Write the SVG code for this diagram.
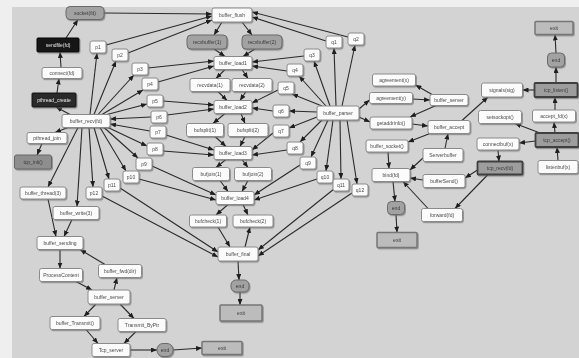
<svg xmlns="http://www.w3.org/2000/svg" width="579" height="358" viewBox="0 0 579 358">
<style>
.bg{fill:#efefef}
.panel{fill:#d3d3d3}
.n rect{fill:#fbfbfb;stroke:#8a8a8a;stroke-width:1}
.g rect{fill:#a2a2a2;stroke:#6a6a6a;stroke-width:1}
.k rect{fill:#151515;stroke:#000;stroke-width:1}
.d rect{fill:#2c2c2c;stroke:#111;stroke-width:1}
.t rect{fill:#8e8e8e;stroke:#666;stroke-width:1}
.o rect{fill:#bcbcbc;stroke:#767676;stroke-width:1.5}
.b rect{fill:#9d9d9d;stroke:#3f3f3f;stroke-width:1.8}
text{font-family:"Liberation Sans",Arial,sans-serif;font-size:5px;fill:#4a4a4a;text-anchor:middle;dominant-baseline:central}
.k text,.d text{fill:#e8e8e8}
.g text,.t text,.b text,.o text{fill:#3a3a3a}
#edges line{stroke:#2a2a2a;stroke-width:1.1;marker-end:url(#ah)}
.node{filter:url(#ds)}
</style>
<defs>
<marker id="ah" markerUnits="userSpaceOnUse" markerWidth="6" markerHeight="5" refX="6" refY="2.5" orient="auto"><path d="M0,0 L6,2.5 L0,5 z" fill="#1e1e1e"/></marker>
<filter id="ds" x="-20%" y="-30%" width="150%" height="180%"><feDropShadow dx="1" dy="1.2" stdDeviation="0.6" flood-color="#6a6a6a" flood-opacity="0.6"/></filter>
</defs>
<rect class="bg" x="0" y="0" width="579" height="358"/>
<rect class="panel" x="12" y="7" width="567" height="351"/>
<g id="edges">
<line x1="70" y1="114.5" x2="56" y2="107"/>
<line x1="57" y1="93" x2="59" y2="78.5"/>
<line x1="61" y1="67.5" x2="60" y2="52"/>
<line x1="66" y1="38" x2="78" y2="19.5"/>
<line x1="104" y1="13" x2="212" y2="14"/>
<line x1="68" y1="127.5" x2="55" y2="132.5"/>
<line x1="42" y1="143.5" x2="37" y2="155"/>
<line x1="78" y1="127.5" x2="48" y2="187"/>
<line x1="82" y1="127.5" x2="77" y2="206.5"/>
<line x1="48" y1="199" x2="56" y2="236.5"/>
<line x1="72" y1="219.5" x2="64" y2="236.5"/>
<line x1="60" y1="249.5" x2="60" y2="268.5"/>
<line x1="105" y1="264.5" x2="80" y2="249.5"/>
<line x1="76" y1="281.5" x2="92" y2="290"/>
<line x1="114" y1="290" x2="117" y2="277.5"/>
<line x1="96" y1="304" x2="84" y2="316.5"/>
<line x1="120" y1="304" x2="134" y2="318.5"/>
<line x1="86" y1="329.5" x2="98" y2="343.5"/>
<line x1="136" y1="331.5" x2="124" y2="343.5"/>
<line x1="130" y1="350" x2="157" y2="350"/>
<line x1="173" y1="350" x2="202" y2="348"/>
<line x1="90" y1="114.5" x2="97" y2="53"/>
<line x1="94" y1="114.5" x2="116" y2="61"/>
<line x1="98" y1="114.5" x2="134" y2="75"/>
<line x1="102" y1="114.5" x2="143" y2="90"/>
<line x1="107" y1="114.5" x2="147" y2="104"/>
<line x1="151" y1="117" x2="110" y2="119"/>
<line x1="150" y1="131" x2="110" y2="124"/>
<line x1="108" y1="127.5" x2="147" y2="146"/>
<line x1="104" y1="127.5" x2="138" y2="158"/>
<line x1="100" y1="127.5" x2="126" y2="171"/>
<line x1="94" y1="127.5" x2="109" y2="179"/>
<line x1="89" y1="127.5" x2="93" y2="187"/>
<line x1="106" y1="45" x2="212" y2="16"/>
<line x1="128" y1="53" x2="212" y2="20"/>
<line x1="148" y1="68" x2="214" y2="61"/>
<line x1="158" y1="82" x2="214" y2="66"/>
<line x1="163" y1="101" x2="214" y2="105"/>
<line x1="167" y1="115" x2="214" y2="109"/>
<line x1="166" y1="135" x2="214" y2="150"/>
<line x1="163" y1="151" x2="214" y2="155"/>
<line x1="152" y1="166" x2="216" y2="195"/>
<line x1="139" y1="179" x2="216" y2="200"/>
<line x1="120" y1="188" x2="218" y2="252"/>
<line x1="102" y1="196" x2="218" y2="257"/>
<line x1="222" y1="22" x2="214" y2="35"/>
<line x1="242" y1="22" x2="252" y2="35"/>
<line x1="214" y1="49" x2="225" y2="56.5"/>
<line x1="255" y1="49" x2="243" y2="56.5"/>
<line x1="225" y1="69.5" x2="216" y2="78.5"/>
<line x1="242" y1="69.5" x2="248" y2="78.5"/>
<line x1="218" y1="91.5" x2="227" y2="100.5"/>
<line x1="246" y1="91.5" x2="240" y2="100.5"/>
<line x1="225" y1="113.5" x2="213" y2="123.5"/>
<line x1="241" y1="113.5" x2="245" y2="123.5"/>
<line x1="215" y1="136.5" x2="226" y2="146.5"/>
<line x1="245" y1="136.5" x2="240" y2="146.5"/>
<line x1="226" y1="159.5" x2="216" y2="167.5"/>
<line x1="242" y1="159.5" x2="248" y2="167.5"/>
<line x1="220" y1="180.5" x2="228" y2="191.5"/>
<line x1="248" y1="180.5" x2="242" y2="191.5"/>
<line x1="228" y1="204.5" x2="216" y2="215"/>
<line x1="243" y1="204.5" x2="248" y2="215"/>
<line x1="218" y1="227" x2="230" y2="247"/>
<line x1="245" y1="247" x2="250" y2="227"/>
<line x1="238" y1="261" x2="239" y2="280"/>
<line x1="240" y1="292" x2="240" y2="305"/>
<line x1="336" y1="106" x2="334" y2="48"/>
<line x1="342" y1="106" x2="355" y2="45"/>
<line x1="330" y1="106" x2="314" y2="61"/>
<line x1="326" y1="106" x2="299" y2="76"/>
<line x1="322" y1="106" x2="292" y2="94"/>
<line x1="317" y1="112" x2="289" y2="111"/>
<line x1="317" y1="117" x2="289" y2="128"/>
<line x1="322" y1="120" x2="300" y2="142"/>
<line x1="328" y1="120" x2="311" y2="157"/>
<line x1="333" y1="120" x2="326" y2="171"/>
<line x1="340" y1="120" x2="341" y2="179"/>
<line x1="347" y1="120" x2="357" y2="184"/>
<line x1="326" y1="41" x2="252" y2="17"/>
<line x1="348" y1="37" x2="252" y2="12"/>
<line x1="304" y1="56" x2="252" y2="62"/>
<line x1="287" y1="71" x2="252" y2="66"/>
<line x1="278" y1="90" x2="252" y2="103"/>
<line x1="273" y1="111" x2="252" y2="108"/>
<line x1="273" y1="133" x2="252" y2="150"/>
<line x1="287" y1="150" x2="252" y2="155"/>
<line x1="300" y1="165" x2="254" y2="195"/>
<line x1="317" y1="179" x2="254" y2="200"/>
<line x1="334" y1="189" x2="258" y2="250"/>
<line x1="352" y1="193" x2="258" y2="256"/>
<line x1="359" y1="109" x2="369.5" y2="100"/>
<line x1="359" y1="117" x2="370" y2="122"/>
<line x1="432" y1="94.5" x2="415.5" y2="85"/>
<line x1="412.5" y1="99" x2="430" y2="100"/>
<line x1="436" y1="105.5" x2="410" y2="117"/>
<line x1="412" y1="124" x2="428" y2="126"/>
<line x1="430" y1="133.5" x2="408" y2="142"/>
<line x1="445" y1="148.5" x2="448" y2="133.5"/>
<line x1="462" y1="120.5" x2="488" y2="97"/>
<line x1="388" y1="152" x2="389" y2="168.5"/>
<line x1="423" y1="158" x2="410" y2="170"/>
<line x1="423" y1="180" x2="410" y2="178"/>
<line x1="428" y1="208.5" x2="403" y2="181.5"/>
<line x1="393" y1="181.5" x2="395" y2="201.5"/>
<line x1="396" y1="214.5" x2="397" y2="232.5"/>
<line x1="477.5" y1="170" x2="465" y2="178"/>
<line x1="488" y1="174.5" x2="455" y2="208.5"/>
<line x1="498" y1="150" x2="499" y2="161.5"/>
<line x1="535.5" y1="141" x2="519" y2="143"/>
<line x1="558" y1="160.5" x2="557" y2="147"/>
<line x1="555" y1="133" x2="554" y2="122"/>
<line x1="540" y1="133" x2="515" y2="123.5"/>
<line x1="555" y1="110" x2="555" y2="97"/>
<line x1="534.5" y1="90" x2="522.5" y2="90"/>
<line x1="556" y1="83" x2="556" y2="67"/>
<line x1="556" y1="53" x2="555" y2="34.5"/>
</g>
<g id="n_socket" class="node g"><rect x="66" y="6.5" width="38" height="13" rx="4"/><text x="85" y="13">socket(fd)</text></g>
<g id="n_sendfile" class="node k"><rect x="37" y="38" width="42" height="14" rx="1"/><text x="58" y="45">sendfile(fd)</text></g>
<g id="n_connect" class="node n"><rect x="42" y="67.5" width="40" height="11" rx="2"/><text x="62" y="73">connect(fd)</text></g>
<g id="n_pcreate" class="node d"><rect x="32" y="93" width="44" height="14" rx="1"/><text x="54" y="100">pthread_create</text></g>
<g id="n_hub" class="node n"><rect x="62" y="114.5" width="48" height="13" rx="2"/><text x="86" y="121">buffer_recv(fd)</text></g>
<g id="n_join" class="node n"><rect x="27" y="132.5" width="40" height="11" rx="2"/><text x="47" y="138">pthread_join</text></g>
<g id="n_tcp" class="node t"><rect x="14.5" y="155" width="37" height="14" rx="2"/><text x="33" y="162">tcp_init()</text></g>
<g id="n_bthread" class="node n"><rect x="20" y="187" width="46" height="12" rx="2"/><text x="43" y="193">buffer_thread(3)</text></g>
<g id="n_bwrite" class="node n"><rect x="53" y="206.5" width="46" height="13" rx="2"/><text x="76" y="213">buffer_write(3)</text></g>
<g id="n_sending" class="node n"><rect x="37" y="236.5" width="46" height="13" rx="2"/><text x="60" y="243">buffer_sending</text></g>
<g id="n_process" class="node n"><rect x="39.5" y="268.5" width="43" height="13" rx="2"/><text x="61" y="275">ProcessContent</text></g>
<g id="n_bell" class="node n"><rect x="98.5" y="264.5" width="43" height="13" rx="2"/><text x="120" y="271">buffer_fwd(dir)</text></g>
<g id="n_bserver" class="node n"><rect x="88" y="290" width="42" height="14" rx="2"/><text x="109" y="297">buffer_server</text></g>
<g id="n_btrans" class="node n"><rect x="50" y="316.5" width="50" height="13" rx="2"/><text x="75" y="323">buffer_Transmit()</text></g>
<g id="n_tbyptr" class="node n"><rect x="118" y="318.5" width="48" height="13" rx="2"/><text x="142" y="325">Transmit_ByPtr</text></g>
<g id="n_tcpserv" class="node n"><rect x="92" y="343.5" width="38" height="13" rx="2"/><text x="111" y="350">Tcp_server</text></g>
<g id="n_end1" class="node g"><rect x="157" y="343.5" width="16" height="13" rx="6"/><text x="165" y="350">end</text></g>
<g id="n_out1" class="node o"><rect x="202" y="341.5" width="40" height="13" rx="1"/><text x="222" y="348">exit</text></g>
<g id="a1" class="node n"><rect x="90" y="41" width="16" height="12" rx="2"/><text x="98" y="47">p1</text></g>
<g id="a2" class="node n"><rect x="112" y="49" width="16" height="12" rx="2"/><text x="120" y="55">p2</text></g>
<g id="a3" class="node n"><rect x="132" y="63" width="16" height="12" rx="2"/><text x="140" y="69">p3</text></g>
<g id="a4" class="node n"><rect x="142" y="78" width="16" height="12" rx="2"/><text x="150" y="84">p4</text></g>
<g id="a5" class="node n"><rect x="147" y="95" width="16" height="12" rx="2"/><text x="155" y="101">p5</text></g>
<g id="a6" class="node n"><rect x="151" y="111" width="16" height="12" rx="2"/><text x="159" y="117">p6</text></g>
<g id="a7" class="node n"><rect x="150" y="126" width="16" height="12" rx="2"/><text x="158" y="132">p7</text></g>
<g id="a8" class="node n"><rect x="147" y="143" width="16" height="12" rx="2"/><text x="155" y="149">p8</text></g>
<g id="a9" class="node n"><rect x="136" y="158" width="16" height="12" rx="2"/><text x="144" y="164">p9</text></g>
<g id="a10" class="node n"><rect x="123" y="171" width="16" height="12" rx="2"/><text x="131" y="177">p10</text></g>
<g id="a11" class="node n"><rect x="104" y="179" width="16" height="12" rx="2"/><text x="112" y="185">p11</text></g>
<g id="a12" class="node n"><rect x="86" y="187" width="16" height="12" rx="2"/><text x="94" y="193">p12</text></g>
<g id="n_flush" class="node n"><rect x="212" y="8" width="40" height="14" rx="2"/><text x="232" y="15">buffer_flush</text></g>
<g id="n_rb1" class="node g"><rect x="187" y="35" width="40" height="14" rx="4"/><text x="207" y="42">recvbuffer(1)</text></g>
<g id="n_rb2" class="node g"><rect x="242" y="35" width="40" height="14" rx="4"/><text x="262" y="42">recvbuffer(2)</text></g>
<g id="n_load1" class="node n"><rect x="214" y="56.5" width="38" height="13" rx="2"/><text x="233" y="63">buffer_load1</text></g>
<g id="n_c1" class="node n"><rect x="190" y="78.5" width="40" height="13" rx="2"/><text x="210" y="85">recvdata(1)</text></g>
<g id="n_c2" class="node n"><rect x="232" y="78.5" width="40" height="13" rx="2"/><text x="252" y="85">recvdata(2)</text></g>
<g id="n_load2" class="node n"><rect x="214" y="100.5" width="38" height="13" rx="2"/><text x="233" y="107">buffer_load2</text></g>
<g id="n_c3" class="node n"><rect x="186.5" y="123.5" width="37" height="13" rx="2"/><text x="205" y="130">bufsplit(1)</text></g>
<g id="n_c4" class="node n"><rect x="228" y="123.5" width="40" height="13" rx="2"/><text x="248" y="130">bufsplit(2)</text></g>
<g id="n_load3" class="node n"><rect x="214" y="146.5" width="38" height="13" rx="2"/><text x="233" y="153">buffer_load3</text></g>
<g id="n_c5" class="node n"><rect x="192.5" y="167.5" width="37" height="13" rx="2"/><text x="211" y="174">bufjoin(1)</text></g>
<g id="n_c6" class="node n"><rect x="234.5" y="167.5" width="37" height="13" rx="2"/><text x="253" y="174">bufjoin(2)</text></g>
<g id="n_load4" class="node n"><rect x="216" y="191.5" width="38" height="13" rx="2"/><text x="235" y="198">buffer_load4</text></g>
<g id="n_c7" class="node n"><rect x="189.5" y="215" width="37" height="12" rx="2"/><text x="208" y="221">bufcheck(1)</text></g>
<g id="n_c8" class="node n"><rect x="233" y="215" width="40" height="12" rx="2"/><text x="253" y="221">bufcheck(2)</text></g>
<g id="n_final" class="node n"><rect x="218" y="247" width="40" height="14" rx="2"/><text x="238" y="254">buffer_final</text></g>
<g id="n_end2" class="node g"><rect x="231" y="280" width="18" height="12" rx="5"/><text x="240" y="286">end</text></g>
<g id="n_out2" class="node o"><rect x="220" y="305" width="42" height="16" rx="1"/><text x="241" y="313">exit</text></g>
<g id="n_parser" class="node n"><rect x="317" y="106" width="42" height="14" rx="2"/><text x="338" y="113">buffer_parser</text></g>
<g id="b1" class="node n"><rect x="326" y="36" width="16" height="12" rx="2"/><text x="334" y="42">q1</text></g>
<g id="b2" class="node n"><rect x="348" y="33" width="16" height="12" rx="2"/><text x="356" y="39">q2</text></g>
<g id="b3" class="node n"><rect x="304" y="49" width="16" height="12" rx="2"/><text x="312" y="55">q3</text></g>
<g id="b4" class="node n"><rect x="287" y="64" width="16" height="12" rx="2"/><text x="295" y="70">q4</text></g>
<g id="b5" class="node n"><rect x="278" y="82" width="16" height="12" rx="2"/><text x="286" y="88">q5</text></g>
<g id="b6" class="node n"><rect x="273" y="105" width="16" height="12" rx="2"/><text x="281" y="111">q6</text></g>
<g id="b7" class="node n"><rect x="273" y="125" width="16" height="12" rx="2"/><text x="281" y="131">q7</text></g>
<g id="b8" class="node n"><rect x="287" y="142" width="16" height="12" rx="2"/><text x="295" y="148">q8</text></g>
<g id="b9" class="node n"><rect x="300" y="157" width="16" height="12" rx="2"/><text x="308" y="163">q9</text></g>
<g id="b10" class="node n"><rect x="317" y="171" width="16" height="12" rx="2"/><text x="325" y="177">q10</text></g>
<g id="b11" class="node n"><rect x="333" y="179" width="16" height="12" rx="2"/><text x="341" y="185">q11</text></g>
<g id="b12" class="node n"><rect x="352" y="184" width="16" height="12" rx="2"/><text x="360" y="190">q12</text></g>
<g id="n_ag1" class="node n"><rect x="372.5" y="74" width="43" height="12" rx="2"/><text x="394" y="80">agreement(x)</text></g>
<g id="n_ag2" class="node n"><rect x="369.5" y="92.5" width="43" height="11" rx="2"/><text x="391" y="98">agreement(y)</text></g>
<g id="n_bs1" class="node n"><rect x="430" y="94.5" width="38" height="11" rx="2"/><text x="449" y="100">buffer_server</text></g>
<g id="n_gai" class="node n"><rect x="370" y="117" width="42" height="12" rx="2"/><text x="391" y="123">getaddrinfo()</text></g>
<g id="n_bs2" class="node n"><rect x="428" y="120.5" width="42" height="13" rx="2"/><text x="449" y="127">buffer_accept</text></g>
<g id="n_bsock" class="node n"><rect x="366" y="140" width="42" height="12" rx="2"/><text x="387" y="146">buffer_socket()</text></g>
<g id="n_bind" class="node n"><rect x="372" y="168.5" width="38" height="13" rx="2"/><text x="391" y="175">bind(fd)</text></g>
<g id="n_sbuf" class="node n"><rect x="423" y="148.5" width="40" height="13" rx="2"/><text x="443" y="155">Serverbuffer</text></g>
<g id="n_bsend" class="node n"><rect x="423" y="174.5" width="42" height="13" rx="2"/><text x="444" y="181">bufferSend()</text></g>
<g id="n_fwd" class="node n"><rect x="421.5" y="208.5" width="41" height="13" rx="2"/><text x="442" y="215">forward(fd)</text></g>
<g id="n_end3" class="node g"><rect x="387.5" y="201.5" width="17" height="13" rx="4"/><text x="396" y="208">end</text></g>
<g id="n_out3" class="node o"><rect x="377" y="232.5" width="40" height="15" rx="1"/><text x="397" y="240">exit</text></g>
<g id="n_sig" class="node n"><rect x="481.5" y="83" width="41" height="14" rx="2"/><text x="502" y="90">signals(sig)</text></g>
<g id="n_r1" class="node n"><rect x="478.5" y="110.5" width="43" height="13" rx="2"/><text x="500" y="117">setsockopt()</text></g>
<g id="n_r2" class="node n"><rect x="532.5" y="110" width="43" height="12" rx="2"/><text x="554" y="116">accept_fd(x)</text></g>
<g id="n_r3" class="node n"><rect x="477" y="138" width="42" height="12" rx="2"/><text x="498" y="144">connectbuf(x)</text></g>
<g id="n_gbox2" class="node b"><rect x="535.5" y="133" width="43" height="14" rx="1"/><text x="557" y="140">tcp_accept()</text></g>
<g id="n_gbox1" class="node b"><rect x="477.5" y="161.5" width="45" height="13" rx="1"/><text x="500" y="168">tcp_recv(fd)</text></g>
<g id="n_r4" class="node n"><rect x="538" y="160.5" width="40" height="13" rx="2"/><text x="558" y="167">listenbuf(x)</text></g>
<g id="n_dbox" class="node b"><rect x="534.5" y="83" width="43" height="14" rx="1"/><text x="556" y="90">tcp_listen()</text></g>
<g id="n_end4" class="node g"><rect x="547.5" y="53" width="17" height="14" rx="4"/><text x="556" y="60">end</text></g>
<g id="n_out4" class="node o"><rect x="535" y="21.5" width="38" height="13" rx="1"/><text x="554" y="28">exit</text></g>
</svg>
